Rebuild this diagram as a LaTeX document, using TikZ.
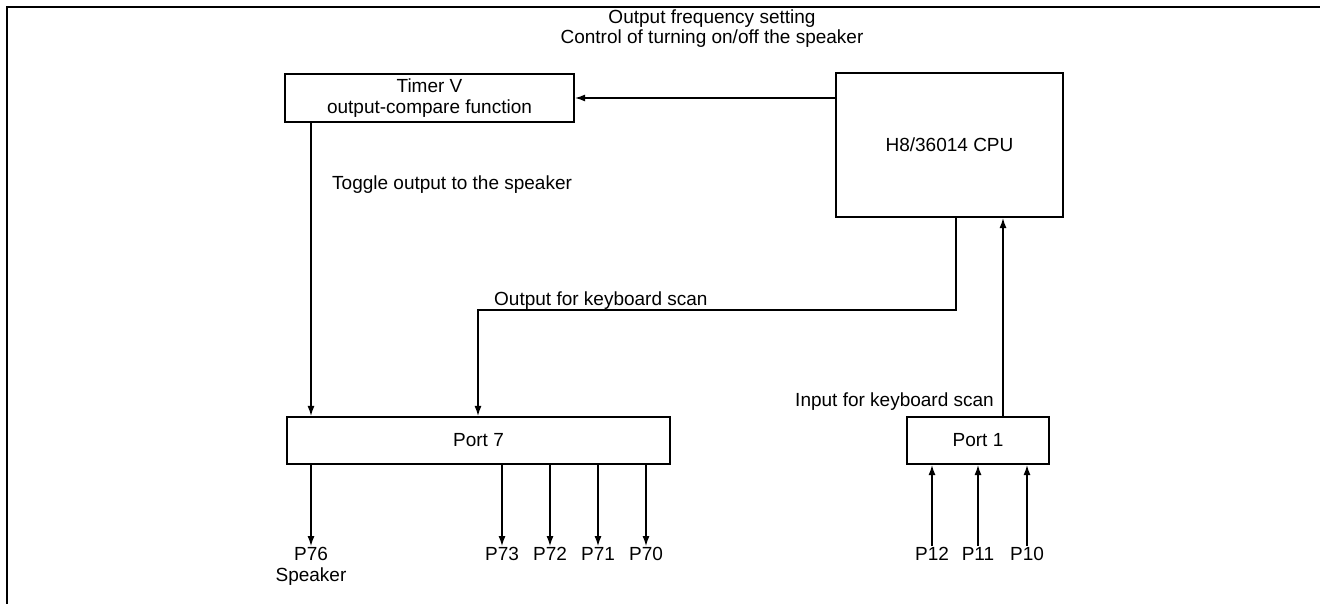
\documentclass[tikz,border=0pt]{standalone}
\usepackage{fontspec}
\setmainfont{Liberation Sans}
\usetikzlibrary{arrows.meta}
\begin{document}
\begin{tikzpicture}[x=1pt,y=-1pt,
  txt/.style={font=\fontsize{19}{21}\selectfont},
  box/.style={draw, line width=2.2pt, inner sep=0pt, txt, align=center},
  arr/.style={line width=1.2pt, -{Latex[length=10pt,width=7pt]}},
  lab/.style={inner sep=0pt, txt, align=center},
  pin/.style={lab, anchor=north, inner sep=1pt}]
\useasboundingbox (0,0) rectangle (1320,604);
\draw[line width=2.5pt] (1320,7) -- (7,7) -- (7,604);

\node[box, minimum width=289pt, minimum height=48pt] (timer) at (429.5,98) {Timer V\\output-compare function};
\node[box, minimum width=227pt, minimum height=144pt] (cpu) at (949.5,145) {H8/36014 CPU};
\node[box, minimum width=383pt, minimum height=47pt] (port7) at (478.5,440.5) {Port 7};
\node[box, minimum width=142pt, minimum height=47pt] (port1) at (978,440.5) {Port 1};

\node[lab, anchor=north, font=\fontsize{19}{20}\selectfont] (lfreq) at (712,10) {Output frequency setting\\Control of turning on/off the speaker};
\node[lab, anchor=base west] (ltoggle) at (332,190) {Toggle output to the speaker};
\node[lab, anchor=base west] (lout) at (494,305) {Output for keyboard scan};
\node[lab, anchor=base east] (lin) at (994,406) {Input for keyboard scan};

\node[pin] (p76) at (311,546) {P76\\Speaker};
\node[pin] (p73) at (502,546) {P73};
\node[pin] (p72) at (550,546) {P72};
\node[pin] (p71) at (598,546) {P71};
\node[pin] (p70) at (646,546) {P70};
\node[pin] (p12) at (932,546) {P12};
\node[pin] (p11) at (978,546) {P11};
\node[pin] (p10) at (1027,546) {P10};

\coordinate (bend1) at (956,310);
\coordinate (bend2) at (478,310);
\coordinate (inx) at (1003,0);

\draw[arr] (cpu.west |- timer.east) -- (timer.east);
\draw[arr] (timer.south -| p76.north) -- (port7.north -| p76.north);
\draw[arr] (cpu.south -| bend1) -- (bend1) -- (bend2) -- (port7.north -| bend2);
\draw[arr] (port1.north -| inx) -- (cpu.south -| inx);

\foreach \p in {p76,p73,p72,p71,p70}
  \draw[arr] (port7.south -| \p.north) -- (\p.north);
\foreach \p in {p12,p11,p10}
  \draw[arr] (\p.north) -- (port1.south -| \p.north);
\end{tikzpicture}
\end{document}
